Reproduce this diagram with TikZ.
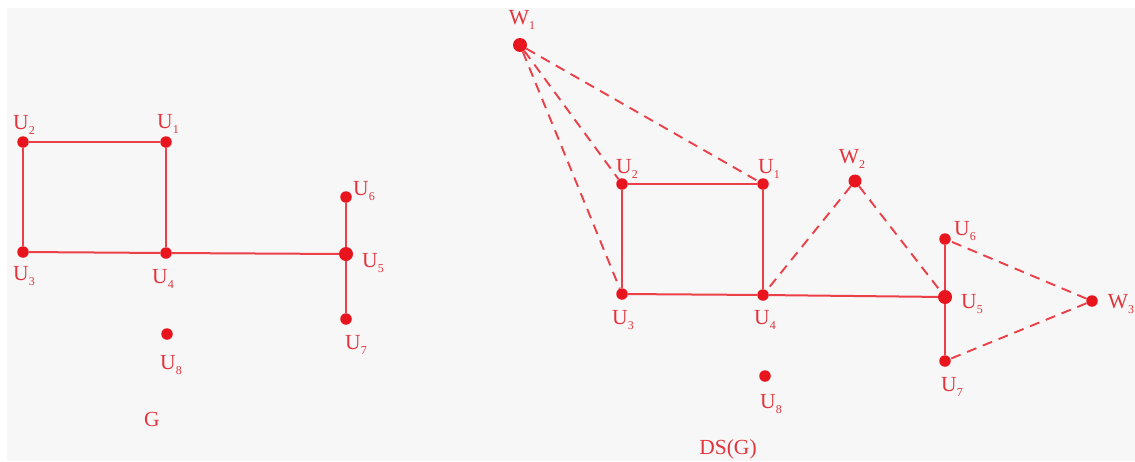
\documentclass[tikz,border=0pt]{standalone}
\usepackage{fontspec}
\setmainfont{Liberation Serif}
\definecolor{bgc}{HTML}{F7F7F7}
\definecolor{edgec}{HTML}{EC4048}
\definecolor{dotc}{HTML}{E8141E}
\definecolor{txtc}{HTML}{E2343C}
\newcommand{\lbl}[2]{#1\raisebox{-0.5ex}{\fontsize{12}{12}\selectfont #2}}
\begin{document}
\begin{tikzpicture}[x=1pt,y=-1pt,
  vtx/.style={circle,fill=dotc,inner sep=0pt,minimum size=11.5pt},
  bigvtx/.style={circle,fill=dotc,inner sep=0pt,minimum size=14pt},
  lab/.style={text=txtc,font=\fontsize{21.5}{21.5}\selectfont,inner sep=0pt},
  edge/.style={draw=edgec,line width=2pt},
  dedge/.style={draw=edgec,line width=1.9pt,dash pattern=on 10pt off 7pt}]
\useasboundingbox (0,0) rectangle (1135,461);
\fill[white] (0,0) rectangle (1135,461);
\fill[bgc] (7,8) rectangle (1135,461);
% ---- left graph G
\node[vtx] (a2) at (23,142) {};
\node[vtx] (a1) at (166,142) {};
\node[vtx] (a3) at (23,252) {};
\node[vtx] (a4) at (166,253) {};
\node[bigvtx] (a5) at (346,254) {};
\node[vtx] (a6) at (346,197) {};
\node[vtx] (a7) at (346,319) {};
\node[vtx] (a8) at (167,334) {};
\draw[edge] (a2) -- (a1);
\draw[edge] (a2) -- (a3);
\draw[edge] (a3) -- (a4);
\draw[edge] (a1) -- (a4);
\draw[edge] (a4) -- (a5);
\draw[edge] (a6) -- (a5);
\draw[edge] (a5) -- (a7);
\node[lab] (la2) at (24,125) {\lbl{U}{2}};
\node[lab] (la1) at (168,124) {\lbl{U}{1}};
\node[lab] (la3) at (24,276) {\lbl{U}{3}};
\node[lab] (la4) at (163,279) {\lbl{U}{4}};
\node[lab] (la5) at (373,263) {\lbl{U}{5}};
\node[lab] (la6) at (364,191) {\lbl{U}{6}};
\node[lab] (la7) at (356,345) {\lbl{U}{7}};
\node[lab] (la8) at (171,365) {\lbl{U}{8}};
\node[lab] (lg) at (152,419) {G};
% ---- right graph DS(G)
\node[bigvtx] (w1) at (520,45) {};
\node[vtx] (b2) at (622,184) {};
\node[vtx] (b1) at (763,184) {};
\node[bigvtx,minimum size=13pt] (w2) at (855,181) {};
\node[vtx] (b3) at (622,294) {};
\node[vtx] (b4) at (763,295) {};
\node[bigvtx] (b5) at (945,297) {};
\node[vtx] (b6) at (945,239) {};
\node[vtx] (b7) at (945,361) {};
\node[vtx] (w3) at (1092,301) {};
\node[vtx] (b8) at (765,376) {};
\draw[edge] (b2) -- (b1);
\draw[edge] (b2) -- (b3);
\draw[edge] (b3) -- (b4);
\draw[edge] (b1) -- (b4);
\draw[edge] (b4) -- (b5);
\draw[edge] (b6) -- (b5);
\draw[edge] (b5) -- (b7);
\draw[dedge] (w1) -- (b1);
\draw[dedge] (w1) -- (b2);
\draw[dedge] (w1) -- (b3);
\draw[dedge] (w2) -- (b4);
\draw[dedge] (w2) -- (b5);
\draw[dedge] (w3) -- (b6);
\draw[dedge] (w3) -- (b7);
\node[lab] (lw1) at (522,20) {\lbl{W}{1}};
\node[lab] (lb2) at (627,169) {\lbl{U}{2}};
\node[lab] (lb1) at (769,169) {\lbl{U}{1}};
\node[lab] (lw2) at (852,159) {\lbl{W}{2}};
\node[lab] (lb3) at (623,320) {\lbl{U}{3}};
\node[lab] (lb4) at (765,320) {\lbl{U}{4}};
\node[lab] (lb6) at (965,231) {\lbl{U}{6}};
\node[lab] (lb5) at (972,304) {\lbl{U}{5}};
\node[lab] (lw3) at (1121,304) {\lbl{W}{3}};
\node[lab] (lb7) at (952,387) {\lbl{U}{7}};
\node[lab] (lb8) at (771,404) {\lbl{U}{8}};
\node[lab] (lds) at (728,449) {DS(G)};
\end{tikzpicture}
\end{document}
